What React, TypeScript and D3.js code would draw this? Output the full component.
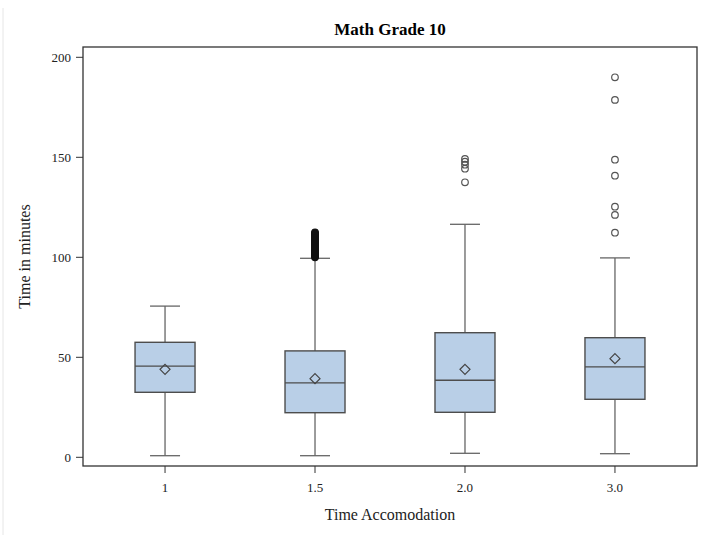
import React from "react";
import * as d3 from "d3";

const categories = ["1", "1.5", "2.0", "3.0"];
const q1 = [32.5, 22.3, 22.5, 29];
const median = [45.6, 37.2, 38.5, 45.2];
const q3 = [57.5, 53.2, 62.3, 59.8];
const mean = [44, 39.3, 44, 49.3];
const whiskerLow = [0.8, 0.8, 2, 1.8];
const whiskerHigh = [75.6, 99.5, 116.5, 99.7];
const outliers: number[][] = [
  [],
  [100, 100.5, 101, 101.5, 102, 102.5, 103, 103.5, 104, 104.5, 105, 105.5, 106, 106.5, 107, 107.5, 108, 108.5, 109, 109.5, 110, 110.5, 111, 111.5, 112, 112.5],
  [137.5, 144.3, 146.3, 147.8, 149.2],
  [112.3, 121.2, 125.3, 140.8, 148.8, 178.7, 190],
];
const yTicks = [0, 50, 100, 150, 200];

const W = 704;
const H = 535;
const left = 83;
const right = 697;
const top = 47;
const bottom = 466;

export default function App() {
  const x = d3.scalePoint<string>().domain(categories).range([left, right]).padding(0.547);
  const y = d3.scaleLinear().domain([0, 200]).range([457.3, 57.3]);
  const step = x.step();
  const boxW = step * 0.4;
  const capW = step * 0.2;
  const font = "'Liberation Serif', 'Times New Roman', serif";
  const boxStroke = "#4d4d4d";
  const lineStroke = "#666666";

  return (
    <svg width={W} height={H} style={{ position: "absolute", left: 0, top: 0, background: "#fff" }}>
      <line x1={3} x2={3} y1={8} y2={H} stroke="#e6e6e6" strokeWidth={1} />
      <text x={(left + right) / 2} y={35} textAnchor="middle" fontFamily={font} fontWeight="bold" fontSize={17} fill="#000">
        Math Grade 10
      </text>
      {categories.map((c, i) => {
        const cx = x(c)!;
        return (
          <g key={c}>
            <line x1={cx} x2={cx} y1={y(whiskerHigh[i])} y2={y(q3[i])} stroke={lineStroke} strokeWidth={1.3} />
            <line x1={cx} x2={cx} y1={y(q1[i])} y2={y(whiskerLow[i])} stroke={lineStroke} strokeWidth={1.3} />
            <line x1={cx - capW / 2} x2={cx + capW / 2} y1={y(whiskerHigh[i])} y2={y(whiskerHigh[i])} stroke={lineStroke} strokeWidth={1.3} />
            <line x1={cx - capW / 2} x2={cx + capW / 2} y1={y(whiskerLow[i])} y2={y(whiskerLow[i])} stroke={lineStroke} strokeWidth={1.3} />
            <rect x={cx - boxW / 2} y={y(q3[i])} width={boxW} height={y(q1[i]) - y(q3[i])} fill="#b9cfe7" stroke={boxStroke} strokeWidth={1.4} />
            <line x1={cx - boxW / 2} x2={cx + boxW / 2} y1={y(median[i])} y2={y(median[i])} stroke={boxStroke} strokeWidth={1.4} />
            <path
              d={`M${cx},${y(mean[i]) - 5} L${cx + 5},${y(mean[i])} L${cx},${y(mean[i]) + 5} L${cx - 5},${y(mean[i])} Z`}
              fill="none"
              stroke="#444"
              strokeWidth={1.2}
            />
            {outliers[i].map((v, j) => (
              <circle key={j} cx={cx} cy={y(v)} r={3.3} fill={i === 1 ? "#111" : "none"} stroke={i === 1 ? "#111" : "#555"} strokeWidth={1.2} />
            ))}
          </g>
        );
      })}
      <rect x={left} y={top} width={right - left} height={bottom - top} fill="none" stroke="#333" strokeWidth={1.3} />
      {yTicks.map((t) => (
        <g key={t}>
          <line x1={left - 7} x2={left} y1={y(t)} y2={y(t)} stroke="#333" strokeWidth={1} />
          <text x={left - 12} y={y(t)} dy="0.35em" textAnchor="end" fontFamily={font} fontSize={13} fill="#222">
            {t}
          </text>
        </g>
      ))}
      {categories.map((c) => (
        <g key={"xt" + c}>
          <line x1={x(c)!} x2={x(c)!} y1={bottom} y2={bottom + 7} stroke="#333" strokeWidth={1} />
          <text x={x(c)!} y={bottom + 21} dy="0.35em" textAnchor="middle" fontFamily={font} fontSize={13} fill="#222">
            {c}
          </text>
        </g>
      ))}
      <text x={(left + right) / 2} y={520} textAnchor="middle" fontFamily={font} fontSize={16} fill="#222">
        Time Accomodation
      </text>
      <text
        transform={`translate(30,${(top + bottom) / 2}) rotate(-90)`}
        textAnchor="middle"
        fontFamily={font}
        fontSize={16}
        fill="#222"
      >
        Time in minutes
      </text>
    </svg>
  );
}
